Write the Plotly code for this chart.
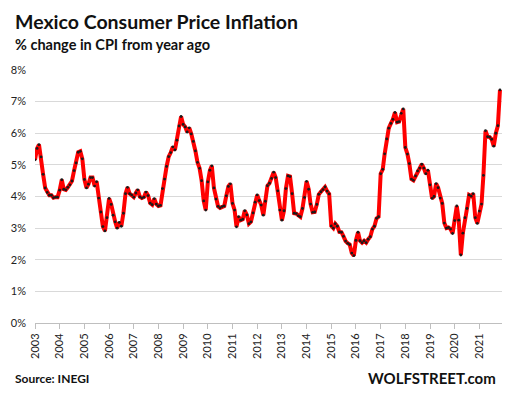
import plotly.graph_objects as go
import pandas as pd

# Mexico annual CPI inflation (%), monthly, Jan 2003 - Nov 2021
y2003 = [5.16, 5.52, 5.64, 5.25, 4.70, 4.27, 4.13, 4.04, 4.04, 3.96, 3.98, 3.98]
y2004 = [4.20, 4.53, 4.23, 4.21, 4.29, 4.37, 4.49, 4.82, 5.06, 5.40, 5.43, 5.19]
y2005 = [4.54, 4.27, 4.39, 4.60, 4.60, 4.33, 4.47, 3.95, 3.51, 3.05, 2.91, 3.33]
y2006 = [3.94, 3.75, 3.41, 3.20, 3.00, 3.18, 3.06, 3.47, 4.09, 4.29, 4.09, 4.05]
y2007 = [3.98, 4.11, 4.21, 3.99, 3.95, 3.98, 4.14, 4.03, 3.79, 3.74, 3.93, 3.76]
y2008 = [3.70, 3.72, 4.25, 4.55, 4.95, 5.26, 5.39, 5.57, 5.47, 5.78, 6.23, 6.53]
y2009 = [6.28, 6.20, 6.04, 6.17, 5.98, 5.74, 5.44, 5.08, 4.89, 4.50, 3.86, 3.57]
y2010 = [4.46, 4.83, 4.97, 4.27, 3.92, 3.69, 3.64, 3.68, 3.70, 4.02, 4.32, 4.40]
y2011 = [3.78, 3.57, 3.04, 3.36, 3.25, 3.28, 3.55, 3.42, 3.14, 3.20, 3.48, 3.82]
y2012 = [4.05, 3.87, 3.73, 3.41, 3.85, 4.34, 4.42, 4.57, 4.77, 4.60, 4.18, 3.57]
y2013 = [3.25, 3.55, 4.25, 4.65, 4.63, 4.09, 3.47, 3.46, 3.39, 3.36, 3.62, 3.97]
y2014 = [4.48, 4.23, 3.76, 3.50, 3.51, 3.75, 4.07, 4.15, 4.22, 4.30, 4.17, 4.08]
y2015 = [3.07, 3.00, 3.14, 3.06, 2.88, 2.87, 2.74, 2.59, 2.52, 2.48, 2.21, 2.13]
y2016 = [2.61, 2.87, 2.60, 2.54, 2.60, 2.54, 2.65, 2.73, 2.97, 3.06, 3.31, 3.36]
y2017 = [4.72, 4.86, 5.35, 5.82, 6.16, 6.31, 6.44, 6.66, 6.35, 6.37, 6.63, 6.77]
y2018 = [5.55, 5.34, 5.04, 4.55, 4.51, 4.65, 4.81, 4.90, 5.02, 4.90, 4.72, 4.83]
y2019 = [4.37, 3.94, 4.00, 4.41, 4.28, 3.95, 3.78, 3.16, 3.00, 3.02, 2.97, 2.83]
y2020 = [3.24, 3.70, 3.25, 2.15, 2.84, 3.33, 3.62, 4.05, 4.01, 4.09, 3.33, 3.15]
y2021 = [3.54, 3.76, 4.67, 6.08, 5.89, 5.88, 5.81, 5.59, 6.00, 6.24, 7.37]

values = (y2003 + y2004 + y2005 + y2006 + y2007 + y2008 + y2009 + y2010 + y2011
          + y2012 + y2013 + y2014 + y2015 + y2016 + y2017 + y2018 + y2019 + y2020 + y2021)
dates = pd.date_range("2003-01-01", periods=len(values), freq="MS")

y_ticks = [0, 1, 2, 3, 4, 5, 6, 7, 8]
y_tick_labels = [f"{v}%" for v in y_ticks]

FONT = "Lato"

fig = go.Figure()
fig.add_trace(go.Scatter(
    x=dates, y=values, mode="lines+markers",
    line=dict(color="#ff0000", width=4),
    marker=dict(color="#1a1a1a", size=2.8),
    hoverinfo="x+y",
))

fig.update_layout(
    width=509, height=393,
    margin=dict(l=35, r=7, t=70, b=70),
    paper_bgcolor="white", plot_bgcolor="white",
    showlegend=False,
    font=dict(family=FONT, color="#222222"),
)

fig.update_xaxes(
    type="date",
    range=["2003-01-01", "2021-12-01"],
    tick0="2003-01-01", dtick="M12", tickformat="%Y",
    tickangle=-90,
    ticks="outside", ticklen=5, tickcolor="#bfbfbf",
    showline=True, linecolor="#bfbfbf", linewidth=1,
    showgrid=False, zeroline=False,
    tickfont=dict(family=FONT, size=11, color="#222222"),
)
fig.update_yaxes(
    range=[0, 8],
    tickvals=y_ticks, ticktext=y_tick_labels,
    showgrid=True, gridcolor="#d9d9d9", gridwidth=1,
    zeroline=False, showline=False, ticks="",
    ticklabelstandoff=8,
    tickfont=dict(family=FONT, size=11, color="#222222"),
)

fig.add_annotation(text="<b>Mexico Consumer Price Inflation</b>",
                   xref="paper", yref="paper", x=-0.047, y=1.19,
                   xanchor="left", yanchor="middle", showarrow=False,
                   font=dict(family=FONT, size=19.5, color="#111111"))
fig.add_annotation(text="<b>% change in CPI from year ago</b>",
                   xref="paper", yref="paper", x=-0.047, y=1.099,
                   xanchor="left", yanchor="middle", showarrow=False,
                   font=dict(family=FONT, size=14.5, color="#111111"))
fig.add_annotation(text="<b>Source: INEGI</b>",
                   xref="paper", yref="paper", x=-0.047, y=-0.221,
                   xanchor="left", yanchor="middle", showarrow=False,
                   font=dict(family=FONT, size=12, color="#111111"))
fig.add_annotation(text="<b>WOLFSTREET.com</b>",
                   xref="paper", yref="paper", x=0.991, y=-0.219,
                   xanchor="right", yanchor="middle", showarrow=False,
                   font=dict(family=FONT, size=15, color="#111111"))

fig.write_html("out.html", config={"displayModeBar": False},
               post_script="document.body.style.margin='0px';")
